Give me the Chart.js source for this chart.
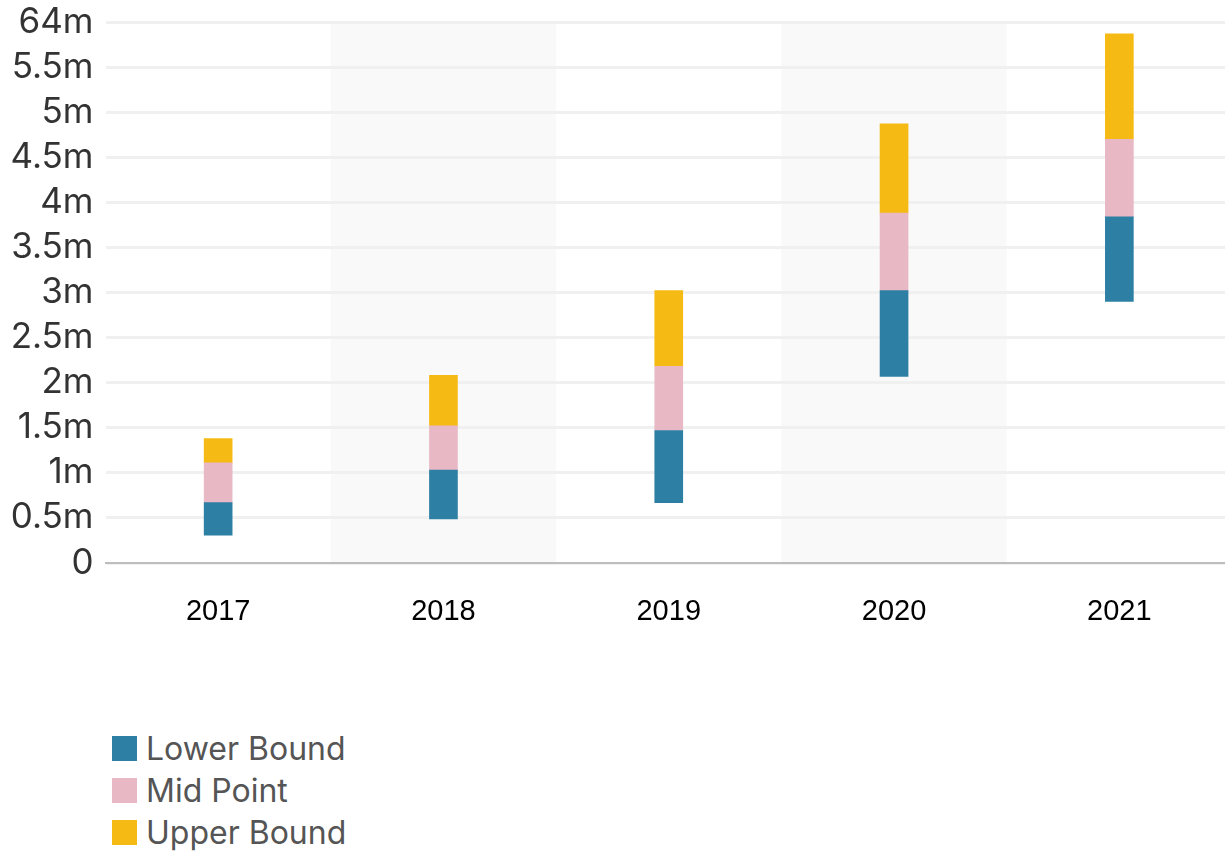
<!DOCTYPE html>
<html>
<head>
<meta charset="utf-8">
<script src="https://cdn.jsdelivr.net/npm/chart.js@4/dist/chart.umd.min.js"></script>
<style>
  html, body { margin: 0; padding: 0; background: #fff; overflow: hidden; }
  #wrap { position: relative; width: 1225px; height: 851px; overflow: hidden; }
  #box { position: absolute; left: 0; top: -11px; width: 1232px; height: 651px; }
  #legend { position: absolute; left: 112px; top: 727px; font-family: Inter, sans-serif; font-size: 32px; color: #555; }
  #legend .item { display: flex; align-items: center; height: 42px; }
  #legend .sw { width: 25px; height: 25px; margin-right: 9px; }
</style>
</head>
<body>
<div id="wrap">
  <div id="box"><canvas id="rangeChart"></canvas></div>
  <div id="legend"></div>
</div>
<script>
// data (millions)
const years = ['2017', '2018', '2019', '2020', '2021'];
const rangeStart = [0.31, 0.49, 0.67, 2.07, 2.9];
const lowerEnd = [0.67, 1.03, 1.47, 3.02, 3.84];
const midEnd = [1.11, 1.52, 2.18, 3.88, 4.7];
const upperEnd = [1.38, 2.08, 3.02, 4.87, 5.87];
const tickLabels = ['0', '0.5m', '1m', '1.5m', '2m', '2.5m', '3m', '3.5m', '4m', '4.5m', '5m', '5.5m', '64m'];

const seriesNames = ['Lower Bound', 'Mid Point', 'Upper Bound'];
const seriesColors = ['#2e7fa4', '#e8b8c5', '#f5bb14'];

function pairs(a, b) {
  return a.map((v, i) => [v, b[i]]);
}

// alternate column shading
const bandPlugin = {
  id: 'bands',
  beforeDraw(chart) {
    const x = chart.scales.x;
    const area = chart.chartArea;
    const ctx = chart.ctx;
    const w = x.getPixelForTick(1) - x.getPixelForTick(0);
    ctx.save();
    ctx.fillStyle = '#f9f9f9';
    years.forEach((y, i) => {
      if (i % 2 === 1) {
        const cx = x.getPixelForTick(i);
        ctx.fillRect(cx - w / 2, area.top, w, area.bottom - area.top);
      }
    });
    ctx.restore();
  }
};

const chart = new Chart(document.getElementById('rangeChart'), {
  type: 'bar',
  data: {
    labels: years,
    datasets: [
      { label: seriesNames[0], data: pairs(rangeStart, lowerEnd), backgroundColor: seriesColors[0] },
      { label: seriesNames[1], data: pairs(lowerEnd, midEnd), backgroundColor: seriesColors[1] },
      { label: seriesNames[2], data: pairs(midEnd, upperEnd), backgroundColor: seriesColors[2] }
    ]
  },
  options: {
    responsive: true,
    maintainAspectRatio: false,
    animation: false,
    layout: { padding: 0 },
    datasets: { bar: { grouped: false, barThickness: 28, borderWidth: 0 } },
    plugins: {
      legend: { display: false },
      tooltip: { enabled: false }
    },
    scales: {
      x: {
        grid: { display: false },
        border: { color: '#bdbdbd', width: 2 },
        ticks: { color: '#000', padding: 24, font: { family: 'Liberation Sans, Arial', size: 29 } },
        afterFit(s) { s.height = 77; }
      },
      y: {
        min: 0,
        max: 6,
        border: { display: false },
        grid: { color: '#f0f0f0', lineWidth: 3, drawTicks: false },
        ticks: {
          stepSize: 0.5,
          autoSkip: false,
          padding: 12,
          color: '#333',
          font: { family: 'Inter', size: 35 },
          callback: (v, i) => tickLabels[i]
        },
        afterFit(s) { s.width = 105.5; }
      }
    }
  },
  plugins: [bandPlugin]
});

// legend list under the chart
const legendEl = document.getElementById('legend');
seriesNames.forEach((name, i) => {
  const item = document.createElement('div');
  item.className = 'item';
  const sw = document.createElement('span');
  sw.className = 'sw';
  sw.style.background = seriesColors[i];
  const txt = document.createElement('span');
  txt.textContent = name;
  item.appendChild(sw);
  item.appendChild(txt);
  legendEl.appendChild(item);
});
</script>
</body>
</html>
